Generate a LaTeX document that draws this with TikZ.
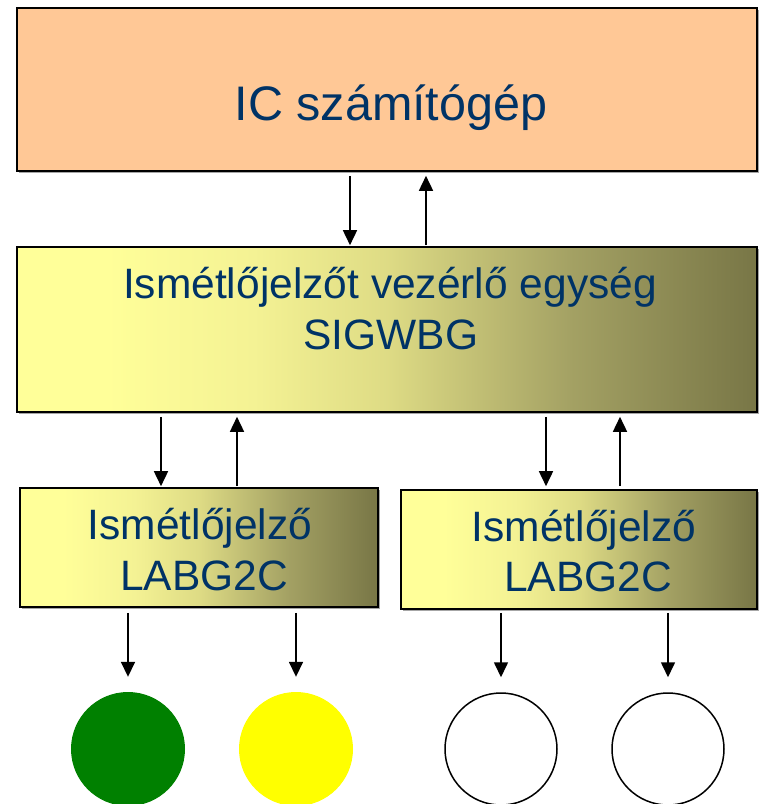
\documentclass[tikz,border=0pt]{standalone}
\usepackage{fontspec}
\setmainfont{Liberation Sans}
\usetikzlibrary{arrows.meta,shadows}
\definecolor{peach}{HTML}{FFC896}
\definecolor{txtblue}{HTML}{003366}
\definecolor{lgreen}{HTML}{008000}
\definecolor{lyellow}{HTML}{FFFF00}
\pgfdeclarehorizontalshading{olivegrad}{100bp}{%
  rgb(0bp)=(1,1,0.6);
  rgb(25bp)=(1,1,0.6);
  rgb(31bp)=(1,1,0.6);
  rgb(41bp)=(0.957,0.949,0.580);
  rgb(50bp)=(0.870,0.860,0.520);
  rgb(62.5bp)=(0.640,0.630,0.390);
  rgb(75bp)=(0.471,0.463,0.275);
  rgb(100bp)=(0.471,0.463,0.275)}
\begin{document}
\begin{tikzpicture}[x=1pt,y=-1pt,
  box/.style={draw=black, line width=1.6pt, rectangle, inner sep=0pt,
    drop shadow={shadow xshift=1.5pt, shadow yshift=-1.5pt, fill=gray!70, opacity=1}},
  gradbox/.style={box, shading=olivegrad},
  lbl/.style={text=txtblue, font=\fontsize{42.5}{51}\selectfont, inner sep=0pt, anchor=base},
  arr/.style={line width=1.6pt, -{Triangle[width=14pt,length=15pt]}},
  lamp/.style={circle, minimum size=114pt, inner sep=0pt}
]
\useasboundingbox (0,0) rectangle (767,804);
% boxes
\node[box, fill=peach, minimum width=740pt, minimum height=163pt] (pc) at (387,89.5) {};
\node[gradbox, minimum width=740pt, minimum height=165pt] (ctrl) at (387,329.5) {};
\node[gradbox, minimum width=358pt, minimum height=119pt] (rl) at (199,547.5) {};
\node[gradbox, minimum width=356pt, minimum height=119pt] (rr) at (579,549.5) {};
% labels
\node[lbl, font=\fontsize{48.5}{56}\selectfont] (tpc) at (391,120) {IC számítógép};
\node[lbl] (tc1) at (390,298) {Ismétlőjelzőt vezérlő egység};
\node[lbl] (tc2) at (391,349) {SIGWBG};
\node[lbl] (tl1) at (200,539) {Ismétlőjelző};
\node[lbl] (tl2) at (204,590) {LABG2C};
\node[lbl] (tr1) at (584,541) {Ismétlőjelző};
\node[lbl] (tr2) at (588,591) {LABG2C};
% lamps
\node[lamp, fill=lgreen] (l1) at (128,749) {};
\node[lamp, fill=lyellow] (l2) at (296,749) {};
\node[lamp, draw=black, line width=1.5pt, fill=white, minimum size=112pt] (l3) at (501,749) {};
\node[lamp, draw=black, line width=1.5pt, fill=white, minimum size=112pt] (l4) at (668,749) {};
% x positions
\coordinate (xa) at (350,0);
\coordinate (xb) at (426,0);
\coordinate (xc) at (161,0);
\coordinate (xd) at (237,0);
\coordinate (xe) at (546,0);
\coordinate (xf) at (620,0);
% connectors
\draw[arr, shorten <=4pt, shorten >=1pt] (pc.south -| xa) -- (ctrl.north -| xa);
\draw[arr, shorten <=1pt, shorten >=4pt] (ctrl.north -| xb) -- (pc.south -| xb);
\draw[arr, shorten <=4pt, shorten >=1pt] (ctrl.south -| xc) -- (rl.north -| xc);
\draw[arr, shorten <=1pt, shorten >=4pt] (rl.north -| xd) -- (ctrl.south -| xd);
\draw[arr, shorten <=4pt, shorten >=3pt] (ctrl.south -| xe) -- (rr.north -| xe);
\draw[arr, shorten <=3pt, shorten >=4pt] (rr.north -| xf) -- (ctrl.south -| xf);
\draw[arr, shorten <=5pt, shorten >=15pt] (rl.south -| l1) -- (l1.north);
\draw[arr, shorten <=5pt, shorten >=15pt] (rl.south -| l2) -- (l2.north);
\draw[arr, shorten <=3pt, shorten >=15pt] (rr.south -| l3) -- (l3.north);
\draw[arr, shorten <=3pt, shorten >=15pt] (rr.south -| l4) -- (l4.north);
\end{tikzpicture}
\end{document}
